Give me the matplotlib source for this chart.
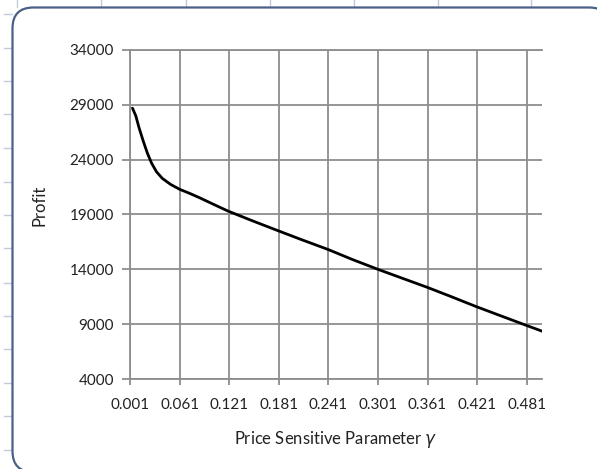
import matplotlib
matplotlib.use("Agg")
import matplotlib.pyplot as plt
from matplotlib.patches import FancyBboxPatch
from matplotlib.lines import Line2D

# Profit versus price-sensitive parameter gamma
gamma = [0.004, 0.008, 0.012, 0.017, 0.022, 0.027, 0.033, 0.040, 0.050,
         0.061, 0.074, 0.086, 0.100, 0.120, 0.150, 0.174, 0.207, 0.241,
         0.270, 0.301, 0.330, 0.361, 0.390, 0.420, 0.450, 0.482, 0.500]
profit = [28700, 28000, 26900, 25700, 24600, 23700, 22900, 22300, 21750,
          21300, 20900, 20500, 20000, 19300, 18400, 17700, 16750, 15800,
          14900, 14000, 13200, 12350, 11500, 10600, 9750, 8850, 8350]

x_ticks = [0.001, 0.061, 0.121, 0.181, 0.241, 0.301, 0.361, 0.421, 0.481]
x_tick_labels = ["0.001", "0.061", "0.121", "0.181", "0.241", "0.301",
                 "0.361", "0.421", "0.481"]
y_ticks = [4000, 9000, 14000, 19000, 24000, 29000, 34000]

W, H = 597, 469
plt.rcParams['font.family'] = ['Lato', 'DejaVu Sans']

fig = plt.figure(figsize=(W / 100, H / 100), dpi=100)

def fx(px):
    return px / W

def fy(py):
    return 1 - py / H

# worksheet cell marks behind the chart frame
sheet_col = "#c3cbd9"
for y in [14, 48, 81, 114, 148, 182, 215, 248, 283, 316, 349, 383, 416, 450]:
    fig.add_artist(Line2D([fx(4), fx(12)], [fy(y), fy(y)], color=sheet_col,
                          lw=1.0, zorder=-10))
for x in [17, 101, 186, 270, 354, 438, 531]:
    fig.add_artist(Line2D([fx(x), fx(x)], [fy(0), fy(7)], color=sheet_col,
                          lw=1.0, zorder=-10))

# chart frame with rounded corners
frame = FancyBboxPatch((fx(12.5), fy(472)), fx(610) - fx(12.5), fy(7.5) - fy(472),
                       boxstyle="round,pad=0,rounding_size=0.035",
                       transform=fig.transFigure, facecolor="white",
                       edgecolor="#4a6089", lw=1.6, mutation_aspect=W / H,
                       zorder=-5)
fig.add_artist(frame)

ax = fig.add_axes([fx(130), fy(379), fx(542.4) - fx(130), fy(50) - fy(379)])
ax.set_zorder(5)
ax.set_facecolor("none")
ax.plot(gamma, profit, color="black", lw=2.0, solid_capstyle="round",
        solid_joinstyle="round", zorder=3)

ax.set_xlim(0.001, 0.500)
ax.set_ylim(4000, 34000)
ax.set_xticks(x_ticks)
ax.set_xticklabels(x_tick_labels)
ax.set_yticks(y_ticks)

grid_col = "#8e8e8e"
ax.grid(True, color=grid_col, lw=1.3)
for s in ax.spines.values():
    s.set_visible(False)
ax.axhline(4000, color=grid_col, lw=1.3, clip_on=False)
ax.axhline(34000, color=grid_col, lw=1.3, clip_on=False)
ax.axvline(0.001, color=grid_col, lw=1.3, clip_on=False)

ax.tick_params(axis="y", length=5.5, width=1.3, color=grid_col, pad=6,
               labelsize=11, labelcolor="#222222")
ax.tick_params(axis="x", length=4, width=1.3, color=grid_col, pad=10,
               labelsize=11, labelcolor="#222222")

ax.set_xlabel("Price Sensitive Parameter $\\gamma$", fontsize=12,
              color="#222222", labelpad=12)
fig.text(fx(40), fy(205), "Profit", rotation=90, ha="center", va="center",
         fontsize=12, color="#222222", zorder=6)

fig.savefig("out.png", dpi=100)
